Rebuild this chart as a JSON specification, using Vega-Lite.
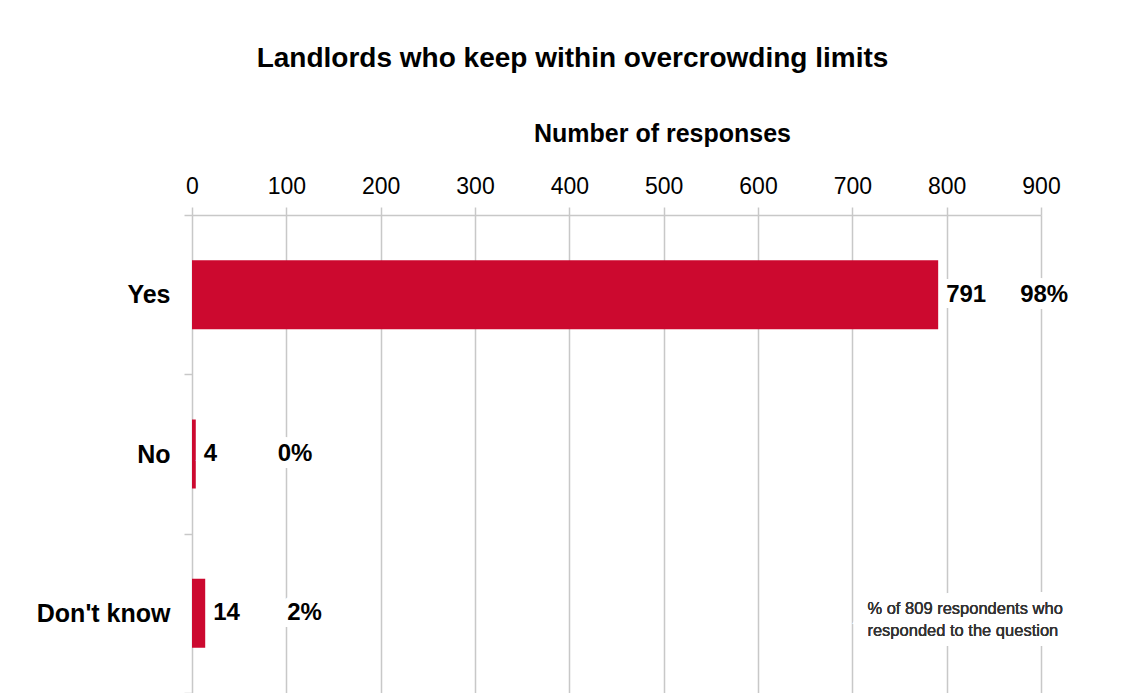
{
  "$schema": "https://vega.github.io/schema/vega-lite/v6.json",
  "width": 849,
  "height": 478,
  "autosize": {"type": "none"},
  "padding": {"left": 192, "top": 215, "right": 84, "bottom": 0},
  "background": "white",
  "config": {
    "view": {"stroke": null},
    "font": "Liberation Sans",
    "text": {"font": "Liberation Sans"}
  },
  "title": {
    "text": "Landlords who keep within overcrowding limits",
    "fontSize": 28,
    "fontWeight": "bold",
    "color": "#000000",
    "anchor": "middle",
    "dx": -44,
    "offset": 48
  },
  "data": {
    "values": [
      {"category": "Yes", "count": 791, "share": 0.9777},
      {"category": "No", "count": 4, "share": 0.0049},
      {"category": "Don't know", "count": 14, "share": 0.0173}
    ]
  },
  "encoding": {
    "y": {
      "field": "category",
      "type": "nominal",
      "sort": null,
      "scale": {"paddingInner": 0, "paddingOuter": 0},
      "axis": {
        "orient": "left",
        "title": null,
        "domain": false,
        "grid": false,
        "ticks": true,
        "tickBand": "extent",
        "tickSize": 8,
        "tickColor": "#c8c8c8",
        "tickWidth": 1.5,
        "labelFontSize": 25,
        "labelFontWeight": "bold",
        "labelColor": "#000000",
        "labelPadding": 14
      }
    }
  },
  "layer": [
    {
      "mark": {"type": "bar", "color": "#cc092f", "size": 69},
      "encoding": {
        "x": {
          "field": "count",
          "type": "quantitative",
          "scale": {"domain": [0, 900], "nice": false},
          "axis": {
            "orient": "top",
            "values": [0, 100, 200, 300, 400, 500, 600, 700, 800, 900],
            "title": "Number of responses",
            "titleFontSize": 25,
            "titleFontWeight": "bold",
            "titleColor": "#000000",
            "titlePadding": 29,
            "titleX": 470,
            "labelFontSize": 23,
            "labelColor": "#000000",
            "labelPadding": 9,
            "labelFlush": false,
            "labelOverlap": false,
            "tickSize": 8,
            "tickColor": "#c8c8c8",
            "tickWidth": 1.5,
            "domainColor": "#c8c8c8",
            "domainWidth": 1.5,
            "grid": true,
            "gridColor": "#c8c8c8",
            "gridWidth": 1.5
          }
        }
      }
    },
    {
      "mark": {"type": "text", "align": "left", "baseline": "middle", "dx": 8, "fontSize": 24, "fontWeight": "bold", "stroke": "white", "strokeWidth": 12, "color": "white"},
      "encoding": {
        "x": {"field": "count", "type": "quantitative"},
        "text": {"field": "count", "type": "quantitative"}
      }
    },
    {
      "mark": {"type": "text", "align": "left", "baseline": "middle", "dx": 8, "fontSize": 24, "fontWeight": "bold", "color": "#000000"},
      "encoding": {
        "x": {"field": "count", "type": "quantitative"},
        "text": {"field": "count", "type": "quantitative"}
      }
    },
    {
      "mark": {"type": "text", "align": "left", "baseline": "middle", "dx": 82, "fontSize": 24, "fontWeight": "bold", "stroke": "white", "strokeWidth": 14, "color": "white"},
      "encoding": {
        "x": {"field": "count", "type": "quantitative"},
        "text": {"field": "share", "type": "quantitative", "format": ".0%"}
      }
    },
    {
      "mark": {"type": "text", "align": "left", "baseline": "middle", "dx": 82, "fontSize": 24, "fontWeight": "bold", "color": "#000000"},
      "encoding": {
        "x": {"field": "count", "type": "quantitative"},
        "text": {"field": "share", "type": "quantitative", "format": ".0%"}
      }
    },
    {
      "mark": {"type": "text", "align": "left", "baseline": "middle", "dy": -4, "fontSize": 16.5, "fontWeight": "normal", "lineHeight": 22, "stroke": "white", "strokeWidth": 20, "color": "white", "text": ["% of 809 respondents who", "responded to the question"]},
      "encoding": {
        "x": {"datum": 716, "type": "quantitative"},
        "y": {"datum": "Don't know", "type": "nominal"}
      }
    },
    {
      "mark": {"type": "text", "align": "left", "baseline": "middle", "dy": -4, "fontSize": 16.5, "fontWeight": "normal", "lineHeight": 22, "color": "#333333", "text": ["% of 809 respondents who", "responded to the question"]},
      "encoding": {
        "x": {"datum": 716, "type": "quantitative"},
        "y": {"datum": "Don't know", "type": "nominal"}
      }
    }
  ]
}
